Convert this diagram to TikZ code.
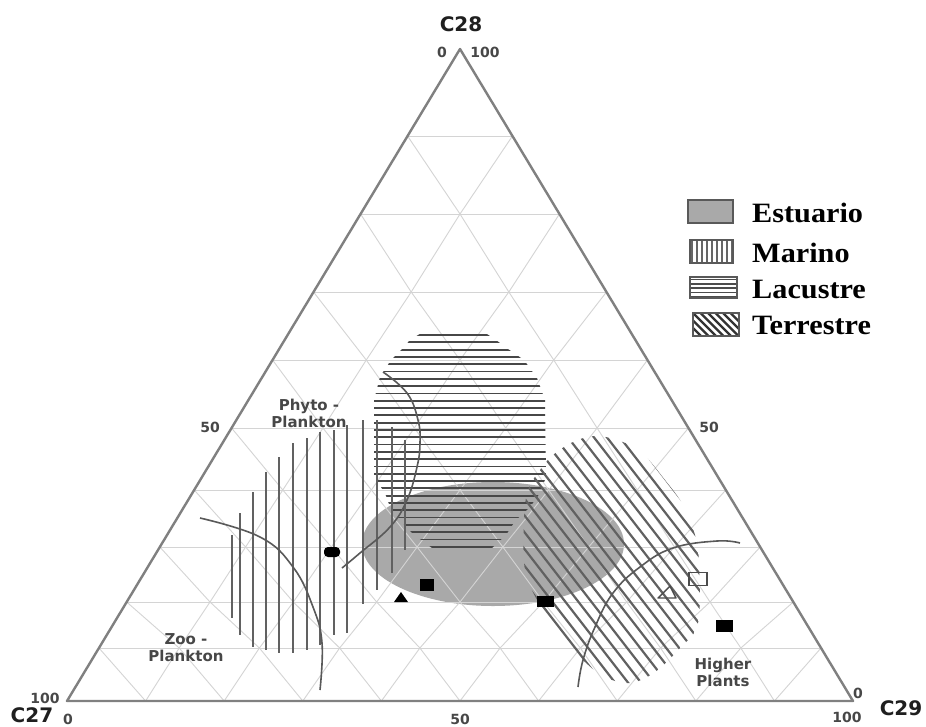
\documentclass[tikz,border=0pt]{standalone}
\usepackage{fontspec}
\setmainfont{Liberation Serif}
\newfontfamily\dejavu{DejaVu Sans}
\definecolor{estugray}{HTML}{A9A9A9}
\begin{document}
\begin{tikzpicture}[x=1pt,y=-1pt,
  gridline/.style={draw=black!17, line width=0.9pt},
  edgeline/.style={draw=black!50, line width=2.4pt, line join=round},
  hatchV/.style={draw=black!62, line width=2.2pt},
  hatchH/.style={draw=black!72, line width=1.8pt},
  hatchD/.style={draw=black!62, line width=2.2pt},
  bound/.style={draw=black!65, line width=1.6pt},
  smalllab/.style={font=\dejavu\bfseries\fontsize{15}{17}\selectfont, text=black!72, align=center, inner sep=0pt},
  numlab/.style={font=\dejavu\bfseries\fontsize{14}{15}\selectfont, text=black!72, inner sep=0pt},
  axlab/.style={font=\dejavu\bfseries\fontsize{20}{22}\selectfont, text=black!88, inner sep=0pt},
  legtext/.style={font=\bfseries\fontsize{28}{30}\selectfont, anchor=west, xscale=1.08, inner sep=0pt},
  legbox/.style={draw=black!65, line width=1.5pt},
  blackmark/.style={fill=black, draw=none, inner sep=0pt},
  openmark/.style={draw=black!70, line width=1.4pt, fill=none, inner sep=0pt}
]
\useasboundingbox (0,0) rectangle (926,726);
\fill[white] (0,0) rectangle (926,726);

% lattice points of the (distorted) ternary grid
\def\Ylist{{49,136,214,292,360,428,490,547,602,648,701}}
\foreach \r in {0,...,10}{
  \foreach \j in {0,...,\r}{
    \pgfmathsetmacro\py{\Ylist[\r]}
    \pgfmathsetmacro\px{460+(\py-49)/652*393*(2*\j-\r)/max(\r,1)}
    \coordinate (P-\r-\j) at (\px,\py);
  }
}

% Estuario ellipse
\fill[estugray] (493,544) ellipse [x radius=131pt, y radius=62pt];

% grid
\foreach \r in {1,...,9}{ \draw[gridline] (P-\r-0) -- (P-\r-\r); }
\foreach \r in {0,...,9}{
  \pgfmathtruncatemacro\rn{\r+1}
  \foreach \j in {0,...,\r}{
    \pgfmathtruncatemacro\jn{\j+1}
    \ifnum\j>0 \draw[gridline] (P-\r-\j) -- (P-\rn-\j); \fi
    \ifnum\j<\r \draw[gridline] (P-\r-\j) -- (P-\rn-\jn); \fi
  }
}

% triangle edges
\draw[edgeline] (P-0-0) -- (P-10-0) -- (P-10-10) -- cycle;

% Lacustre (horizontal hatch)
\begin{scope}
  \clip (423,332) -- (410,340) -- (402,349) -- (391,360) -- (380,377) -- (374,400) -- (374,477) -- (385,493) -- (390,507) -- (400,520) -- (412,533) -- (432,548) -- (492,548) -- (506,535) -- (515,521) -- (530,507) -- (540,493) -- (546,477) -- (545,400) -- (537,378) -- (524,360) -- (508,349) -- (496,340) -- (484,332) -- cycle;
  \foreach \k in {0,...,29} \draw[hatchH] (360,{335+7.3*\k}) -- (560,{335+7.3*\k});
\end{scope}

% Marino (vertical hatch)
\foreach \xx/\ya/\yb in {232/535/618, 240/513/635, 253/492/647, 266/472/650, 279/457/653, 293/443/653, 307/438/650, 320/432/645, 334/430/635, 347/425/633, 363/420/604, 377/420/590, 392/427/573, 405/440/550}
  \draw[hatchV] (\xx,\ya) -- (\xx,\yb);

% Terrestre (diagonal hatch)
\begin{scope}
  \clip plot[smooth cycle, tension=0.6] coordinates {(540,470) (553,455) (573,442) (595,436) (620,441) (642,453) (665,480) (683,505) (695,535) (699,565) (698,623) (680,648) (655,672) (630,683) (605,677) (585,662) (565,640) (540,605) (525,570) (524,520) (528,490)};
  \foreach \k in {0,...,19} \draw[hatchD] ({60+13*\k+325.5},420) -- ({60+13*\k+542.5},700);
\end{scope}

% boundary curves
\draw[bound] plot[smooth, tension=0.7] coordinates {(200,518) (260,537) (293,567) (313,607) (322,643) (320,690)};
\draw[bound] plot[smooth, tension=0.7] coordinates {(342,568) (360,553) (390,527) (407,500) (417,467) (420,443) (418,420) (407,393) (383,372)};
\draw[bound] plot[smooth, tension=0.7] coordinates {(578,687) (583,660) (595,627) (613,593) (640,567) (673,548) (717,541) (740,543)};

% data markers
\node[blackmark, minimum width=16pt, minimum height=10pt, rounded corners=4pt] (m1) at (332,552) {};
\node[blackmark, minimum width=14pt, minimum height=12pt] (m2) at (427,585) {};
\node[blackmark, minimum width=17pt, minimum height=11pt] (m3) at (545,601) {};
\node[blackmark, minimum width=17pt, minimum height=12pt] (m4) at (724,626) {};
\node[openmark, minimum width=18pt, minimum height=13pt] (m5) at (698,579) {};
\fill[black] (394,602) -- (408,602) -- (401,592) -- cycle;
\draw[draw=black!70, line width=1.4pt, line join=round] (658,598) -- (676,598) -- (670,586) -- cycle;

% region labels
\node[smalllab] (phyto) at (309,413) {Phyto -\\Plankton};
\node[smalllab] (zoo) at (186,648) {Zoo -\\Plankton};
\node[smalllab] (higher) at (723,672) {Higher\\Plants};

% axis labels
\node[axlab] (c28) at (461,24) {C28};
\node[axlab] (c27) at (32,715) {C27};
\node[axlab] (c29) at (901,708) {C29};
\node[numlab] (t0) at (442,52) {0};
\node[numlab] (t100) at (485,52) {100};
\node[numlab] (l100) at (45,698) {100};
\node[numlab] (l0) at (68,719) {0};
\node[numlab] (r0) at (858,693) {0};
\node[numlab] (r100) at (847,717) {100};
\node[numlab] (l50) at (210,427) {50};
\node[numlab] (r50) at (709,427) {50};
\node[numlab] (b50) at (460,719) {50};

% legend
\draw[legbox, fill=estugray] (688,200) rectangle (733,223);
\begin{scope}
  \clip (690,240) rectangle (733,263);
  \foreach \k in {0,...,8} \draw[draw=black!60, line width=1.6pt] ({692+5*\k},240) -- ({692+5*\k},263);
\end{scope}
\draw[legbox] (690,240) rectangle (733,263);
\begin{scope}
  \clip (690,277) rectangle (737,298);
  \foreach \k in {0,...,4} \draw[draw=black!70, line width=1.6pt] (690,{279.5+4.3*\k}) -- (737,{279.5+4.3*\k});
\end{scope}
\draw[legbox] (690,277) rectangle (737,298);
\begin{scope}
  \clip (693,313) rectangle (739,336);
  \foreach \k in {-4,...,7} \draw[draw=black!80, line width=2.2pt] ({693+7.5*\k},313) -- ({693+7.5*\k+23},336);
\end{scope}
\draw[legbox] (693,313) rectangle (739,336);
\node[legtext] (le) at (752,213) {Estuario};
\node[legtext] (lm) at (752,253) {Marino};
\node[legtext] (ll) at (752,289) {Lacustre};
\node[legtext] (lt) at (752,325) {Terrestre};
\end{tikzpicture}
\end{document}
